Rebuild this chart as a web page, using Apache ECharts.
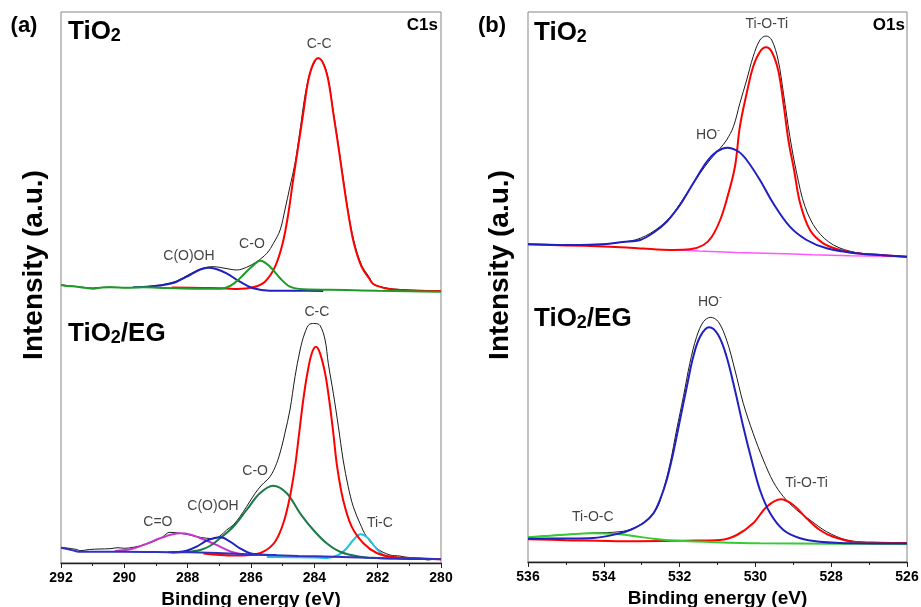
<!DOCTYPE html>
<html><head><meta charset="utf-8">
<script src="https://cdn.jsdelivr.net/npm/echarts/dist/echarts.min.js"></script>
<style>html,body{margin:0;padding:0;background:#fff}#c{width:921px;height:607px}</style>
</head><body><div id="c"></div>
<script>
// ---------- axis ticks ----------
const c1sTicks = [292, 290, 288, 286, 284, 282, 280];
const o1sTicks = [536, 534, 532, 530, 528, 526];

// ---------- C1s, TiO2 (upper spectrum, offset intensity units) ----------
const c1sTiO2Exp = [[292,278],[291.5,276.5],[291,275],[290.5,276],[290,275.3],[289.5,275.8],[289,277.5],[288.7,279],[288.35,282],[287.93,289],[287.6,294],[287.35,296],[287.19,296.3],[286.82,294.7],[286.45,293],[286.14,295.7],[285.82,301.3],[285.5,309.7],[285.29,319.7],[285.08,333],[284.93,353],[284.77,376.3],[284.61,399.7],[284.45,433],[284.3,466.3],[284.14,489.7],[283.98,501.3],[283.88,505],[283.72,500.5],[283.56,484],[283.4,451],[283.24,418],[283.09,385],[282.93,351.5],[282.75,322],[282.51,298],[282.27,286],[282.14,279],[281.8,275.5],[281.51,274],[281,273],[280.5,272.5],[280,272]];
const c1sTiO2CC = [[288.5,275.5],[287.5,275],[286.8,274.6],[286.45,273.9],[285.93,275.7],[285.56,281.3],[285.24,296.3],[285.0,319.7],[284.82,349.7],[284.67,383],[284.51,416.3],[284.35,449.7],[284.19,483],[284.03,499.7],[283.88,504.7],[283.72,499.7],[283.56,483],[283.4,449.7],[283.24,416.3],[283.09,383],[282.93,349.7],[282.75,319.7],[282.51,296.3],[282.27,284.7],[282.14,279],[281.8,275],[281.51,273.5],[281,272.5],[280,272]];
const c1sTiO2CO = [[292,278],[291.8,277],[291.5,276.3],[291.2,275],[290.98,274.3],[290.7,275.5],[290.45,275.7],[289.93,275.3],[289.4,275.7],[288.66,275],[287.61,274.3],[286.98,274.3],[286.66,277],[286.35,284.7],[286.03,294.7],[285.7,302.3],[285.4,296.3],[285.08,284.7],[284.77,276.3],[284.35,273.7],[283,273],[282,272.2],[281,271.7],[280,271.3]];
const c1sTiO2COOH = [[289.72,275.7],[289.2,276.5],[288.77,278],[288.35,281.3],[287.93,288],[287.6,293.5],[287.35,295.3],[287.1,294],[286.77,289.7],[286.35,281.3],[285.93,274.7],[285.4,272.3],[284.5,272.2],[283.72,272]];

// ---------- C1s, TiO2/EG (lower spectrum) ----------
const c1sEGExp = [[292,15.7],[291.82,15],[291.5,13.5],[291.4,12.3],[291.1,13.5],[290.8,14],[290.45,14.3],[290.2,15.3],[290,14.7],[289.72,15.7],[289.4,18],[289.09,21.3],[288.8,26],[288.56,30.7],[288.24,29.7],[287.93,28],[287.61,25.7],[287.19,24.3],[286.98,27],[286.77,33],[286.56,38],[286.35,46.3],[286.14,56.3],[285.87,69.7],[285.66,78],[285.4,86.3],[285.19,99.7],[285.03,116.3],[284.93,129.7],[284.77,153],[284.61,186.3],[284.45,213],[284.3,230],[284.14,239],[283.98,239.5],[283.82,237.5],[283.66,223],[283.56,199.7],[283.4,169.7],[283.24,136.3],[283.09,103],[282.93,76.3],[282.77,56.3],[282.56,39.7],[282.35,26.3],[282.03,14.7],[281.61,8],[281.3,7],[281.08,5.7],[280.66,4.7],[280.4,3],[280.2,4],[280,4.3]];
const c1sEGCC = [[287.5,9.5],[286.56,7.5],[286.03,8],[285.61,11.3],[285.24,21.3],[284.98,39.7],[284.77,66.3],[284.61,96.3],[284.48,129.7],[284.35,163],[284.22,189.7],[284.08,209.7],[283.95,216.3],[283.82,209.7],[283.66,189.7],[283.53,163],[283.4,129.7],[283.28,96.3],[283.09,63],[282.82,36.3],[282.45,19.7],[282.03,10],[281.51,6],[280.66,4.7],[280,3.7]];
const c1sEGCO = [[288.5,10.5],[287.9,11.5],[287.6,13],[287.3,17],[286.98,24.7],[286.56,36.3],[286.14,53],[285.72,69.7],[285.3,77.3],[284.87,69.7],[284.45,49.7],[284.03,33],[283.61,19.7],[283.19,11.3],[282.56,6.3],[282,5],[281.5,4.5]];
const c1sEGCOOH = [[288.6,10.8],[288.3,11],[288.03,12.3],[287.72,16.3],[287.4,22.3],[287.15,25],[286.95,25.7],[286.66,21.3],[286.35,14.7],[286.03,9.7],[285.7,8.5],[285.2,8]];
const c1sEGCdO = [[290.3,12],[289.82,13.7],[289.4,18],[288.87,24.7],[288.5,28.5],[288.21,29.7],[287.9,28.3],[287.61,25],[287.19,19.5],[286.98,16.3],[286.6,11],[286.2,8.5],[285.8,8]];
const c1sEGTiC = [[285.5,6],[284,5.5],[283.61,5],[283.24,8],[282.98,14.7],[282.77,23],[282.54,28.7],[282.3,24.7],[282.09,16.3],[281.82,8],[281.51,4.7],[281,4.2]];
const c1sEGBase = [[292,15.3],[291.8,14],[291.55,12],[291.45,11.3],[291,11.3],[290,11.3],[289,11],[288.1,10.7],[287.61,10.5],[286.5,9.2],[285.5,8],[284.5,7],[283.4,6.3],[282.3,5.2],[281.3,4.3],[280.5,4],[280,3.7]];

// ---------- O1s, TiO2 (upper) ----------
const o1sTiO2Exp = [[536,317.7],[535,317.3],[534,318],[533.57,319.5],[533.04,323.7],[532.52,335.3],[532.17,348.7],[531.81,368.7],[531.46,388.7],[531.2,402],[530.93,413.7],[530.76,422],[530.58,435.3],[530.41,458.7],[530.23,482],[530.06,505.3],[529.88,522],[529.72,526],[529.57,522],[529.4,502],[529.26,468.7],[529.09,425.3],[528.91,388.7],[528.69,355.3],[528.38,332],[527.94,317],[527.33,309.3],[526.71,307],[526,305.3]];
const o1sTiO2HO = [[536,317.7],[535,317],[534.3,317.3],[533.92,318],[533.5,320],[533.04,322],[532.69,329.3],[532.34,340.3],[531.99,357],[531.64,378.7],[531.28,400.3],[531.02,410.3],[530.74,414.3],[530.45,410.5],[530.23,402],[529.88,382],[529.53,358.7],[529.09,335.3],[528.65,322],[528.12,313.7],[527.33,308.7],[526.71,307],[526,305.3]];
const o1sTiO2TiOTi = [[536,317.7],[535,316.6],[534,315.6],[533.4,314.6],[533.04,313.6],[532.6,312.6],[532.17,312.1],[531.73,312.7],[531.37,317],[531.15,325.3],[530.93,342],[530.76,362],[530.54,395.3],[530.41,435.3],[530.23,468.7],[530.06,495.3],[529.88,510.3],[529.72,514.7],[529.57,510.3],[529.4,492],[529.26,458.7],[529.13,422],[528.98,392],[528.82,358.7],[528.56,332],[528.21,318.7],[527.77,312],[527.33,308.7],[526.71,307],[526,305.3]];
const o1sTiO2Base = [[532.2,312.2],[531.5,311],[530.5,309.5],[529.5,308.5],[528.5,307.3],[527.5,306.3],[526,305.3]];

// ---------- O1s, TiO2/EG (lower) ----------
const o1sEGExp = [[536,24.7],[535.2,27],[534.28,29],[533.57,30.3],[533.22,33.7],[532.87,42],[532.6,53.7],[532.43,72],[532.25,98.7],[532.08,132],[531.9,165.3],[531.73,198.7],[531.55,225.3],[531.37,240.3],[531.18,244.7],[530.98,240.3],[530.76,222],[530.54,192],[530.32,158.7],[530.06,128.7],[529.79,102],[529.53,80.3],[529.26,65.3],[528.91,52],[528.56,42],[528.12,30.3],[527.59,22],[526.98,19.3],[526.5,18.8],[526,18.7]];
const o1sEGHO = [[536,23.3],[535,23.5],[534.28,24],[533.57,28.7],[533.31,32],[532.96,38.7],[532.69,48.7],[532.52,62],[532.34,82],[532.17,108.7],[531.99,142],[531.81,175.3],[531.64,205.3],[531.46,225.3],[531.22,234.7],[530.98,227],[530.76,205.3],[530.54,172],[530.32,135.3],[530.1,102],[529.88,72],[529.61,48.7],[529.26,32],[528.82,23.7],[528.3,20.3],[527.42,18.7],[526,18.5]];
const o1sEGTiOTi = [[536,22.7],[535,21.8],[533.4,20.7],[531.81,21.3],[530.93,22],[530.49,27],[530.06,38.7],[529.7,55.3],[529.33,62.7],[529.0,57],[528.65,43.7],[528.3,32],[527.95,25.3],[527.42,20.3],[526.71,19.3],[526,19]];
const o1sEGTiOC = [[536,24.7],[535.16,27],[534.28,28.7],[533.66,28],[533.22,26],[532.69,23.3],[532.08,21.3],[531.2,20],[529.88,18.7],[528,18.3],[526,18]];

// ---------- peak annotations: [label, energy, intensity] ----------
const c1sLabels = [['C-C',283.85,519],['C-O',285.97,319],['C(O)OH',287.96,307],['C-C',283.92,251],['C-O',285.87,92],['C(O)OH',287.2,57],['C=O',288.94,41],['Ti-C',281.93,40]];
const o1sLabels = [['Ti-O-Ti',529.7,538],['HO{s|-}',531.25,427],['HO{s|-}',531.2,260],['Ti-O-Ti',528.65,79],['Ti-O-C',534.29,45]];

const FONT = '"Liberation Sans", Arial, sans-serif';
const chart = echarts.init(document.getElementById('c'), null, {renderer: 'canvas'});

function line(data, color, width, axis) {
  return {type: 'line', xAxisIndex: axis, yAxisIndex: axis, data: data, symbol: 'none', smooth: 0.35,
    silent: true, animation: false, lineStyle: {color: color, width: width}};
}
function labels(list, axis) {
  return {type: 'scatter', xAxisIndex: axis, yAxisIndex: axis, symbolSize: 0, silent: true, animation: false, z: 10,
    data: list.map(d => ({name: d[0], value: [d[1], d[2]]})),
    label: {show: true, position: 'inside', formatter: p => p.name, color: '#111', fontFamily: FONT, fontSize: 14,
      rich: {s: {fontSize: 9, fontFamily: FONT, color: '#111', padding: [0, 0, 8, 0]}}}};
}
function xAxis(idx, min, max) {
  return {gridIndex: idx, type: 'value', min: min, max: max, interval: 2, inverse: true,
    axisLine: {onZero: false, lineStyle: {color: '#222', width: 1.3}},
    axisTick: {inside: false, length: 5, lineStyle: {color: '#222', width: 1}},
    minorTick: {show: true, splitNumber: 2, length: 3, lineStyle: {color: '#222', width: 1}},
    splitLine: {show: false}, minorSplitLine: {show: false},
    axisLabel: {showMinLabel: true, showMaxLabel: true, margin: 8, color: '#000', fontFamily: FONT, fontWeight: 'bold', fontSize: 14},
    name: 'Binding energy (eV)', nameLocation: 'middle', nameGap: 24,
    nameTextStyle: {color: '#000', fontFamily: FONT, fontWeight: 'bold', fontSize: 19}};
}
function title(text, x, y) {
  return {type: 'text', x: x, y: y, silent: true, style: {text: text, verticalAlign: 'middle', align: 'left',
    rich: {a: {fontSize: 26, fontWeight: 'bold', fontFamily: FONT, fill: '#000', color: '#000', verticalAlign: 'bottom'},
           b: {fontSize: 18, fontWeight: 'bold', fontFamily: FONT, fill: '#000', color: '#000', verticalAlign: 'bottom'}}}};
}
function plain(text, x, y, size, align, rot) {
  return {type: 'text', x: x, y: y, rotation: rot || 0, silent: true,
    style: {text: text, fill: '#000', font: 'bold ' + size + 'px ' + FONT, align: align, verticalAlign: 'middle'}};
}

chart.setOption({
  animation: false,
  grid: [
    {left: 61, top: 12, width: 380, height: 551, show: true, borderColor: '#858585', borderWidth: 1, outerBoundsMode: 'none', containLabel: false},
    {left: 528, top: 12, width: 379, height: 550, show: true, borderColor: '#858585', borderWidth: 1, outerBoundsMode: 'none', containLabel: false}
  ],
  xAxis: [xAxis(0, c1sTicks[c1sTicks.length - 1], c1sTicks[0]), xAxis(1, o1sTicks[o1sTicks.length - 1], o1sTicks[0])],
  yAxis: [
    {gridIndex: 0, type: 'value', min: 0, max: 551, show: false},
    {gridIndex: 1, type: 'value', min: 0, max: 550, show: false}
  ],
  series: [
    line(c1sTiO2Exp, '#1a1a1a', 1, 0),
    line(c1sTiO2CC, '#ff0000', 2, 0),
    line(c1sTiO2COOH, '#2020c0', 2, 0),
    line(c1sTiO2CO, '#1f9a24', 2, 0),
    line(c1sEGExp, '#1a1a1a', 1, 0),
    line(c1sEGTiC, '#22c0e0', 2, 0),
    line(c1sEGCdO, '#c935c9', 2, 0),
    line(c1sEGCO, '#1b7a48', 2, 0),
    line(c1sEGCC, '#ff0000', 2, 0),
    line(c1sEGCOOH, '#2020c0', 2, 0),
    line(c1sEGBase, '#3030c4', 2, 0),
    line(o1sTiO2Exp, '#1a1a1a', 1, 1),
    line(o1sTiO2Base, '#ff55ff', 1.5, 1),
    line(o1sTiO2TiOTi, '#ff0000', 2, 1),
    line(o1sTiO2HO, '#2020c0', 2, 1),
    line(o1sEGExp, '#1a1a1a', 1, 1),
    line(o1sEGTiOTi, '#ff0000', 2, 1),
    line(o1sEGTiOC, '#33cc33', 2, 1),
    line(o1sEGHO, '#2020c0', 2, 1),
    labels(c1sLabels, 0),
    labels(o1sLabels, 1)
  ],
  graphic: [
    plain('(a)', 24, 26, 22, 'center'),
    plain('(b)', 492, 26, 22, 'center'),
    plain('C1s', 438, 25, 17, 'right'),
    plain('O1s', 905, 25, 17, 'right'),
    plain('Intensity (a.u.)', 34, 265, 28, 'center', Math.PI / 2),
    plain('Intensity (a.u.)', 500, 265, 28, 'center', Math.PI / 2),
    title('{a|TiO}{b|2}', 68, 32),
    title('{a|TiO}{b|2}{a|/EG}', 68, 334),
    title('{a|TiO}{b|2}', 534, 33),
    title('{a|TiO}{b|2}{a|/EG}', 534, 319)
  ]
});
</script>
</body></html>
